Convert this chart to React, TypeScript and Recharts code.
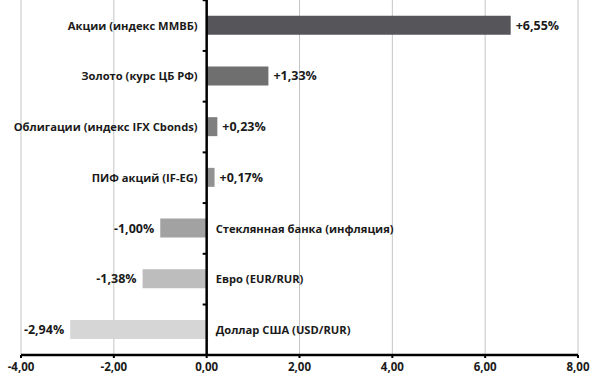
import React from 'react';
import { BarChart, Bar, XAxis, YAxis, CartesianGrid, ReferenceLine, LabelList, Cell } from 'recharts';

const categories = [
  'Акции (индекс ММВБ)',
  'Золото (курс ЦБ РФ)',
  'Облигации (индекс IFX Cbonds)',
  'ПИФ акций (IF-EG)',
  'Стеклянная банка (инфляция)',
  'Евро (EUR/RUR)',
  'Доллар США (USD/RUR)',
];
const values = [6.55, 1.33, 0.23, 0.17, -1.0, -1.38, -2.94];
const barColors = ['#56565a', '#6f6f6f', '#7f7f7f', '#929292', '#a2a2a2', '#bdbdbd', '#d6d6d6'];
const xTicks = [-4, -2, 0, 2, 4, 6, 8];

const data = categories.map((name, i) => ({ name, value: values[i] }));

const FONT = '"Open Sans", "DejaVu Sans", sans-serif';
const GAP = 0.31;

const fmtNum = (v: number) => v.toFixed(2).replace('.', ',');
const fmtPct = (v: number) => (v > 0 ? '+' : '') + fmtNum(v) + '%';

const renderLabels = (p: any) => {
  const vb = p.viewBox || {};
  const x = Number(vb.x ?? p.x);
  const w = Number(vb.width ?? p.width);
  const y = Number(vb.y ?? p.y);
  const h = Number(vb.height ?? p.height);
  const idx = Number(p.index);
  const v = values[idx];
  const left = Math.min(x, x + w);
  const right = Math.max(x, x + w);
  const zero = v >= 0 ? left : right;
  const end = v >= 0 ? right : left;
  const cy = y + Math.abs(h) / 2;
  const band = Math.abs(h) / (1 - 2 * GAP);
  const tickY = cy - band / 2;
  const common = { fontFamily: FONT, fontWeight: 700, fill: '#1a1a1a', dominantBaseline: 'central' as const };
  return (
    <g key={'lbl' + idx}>
      <line x1={zero - 4} x2={zero} y1={tickY} y2={tickY} stroke="#000" strokeWidth={2} />
      <text {...common} fontSize={11.2} x={v >= 0 ? zero - 9 : zero + 9} y={cy} textAnchor={v >= 0 ? 'end' : 'start'}>
        {categories[idx]}
      </text>
      <text {...common} fontSize={12.5} x={v >= 0 ? end + 5 : end - 6} y={cy} textAnchor={v >= 0 ? 'start' : 'end'}>
        {fmtPct(v)}
      </text>
    </g>
  );
};

export default function App() {
  return (
    <div style={{ position: 'absolute', left: 0, top: 0, width: 600, height: 380, background: '#fff' }}>
      <BarChart
        width={600}
        height={380}
        data={data}
        layout="vertical"
        margin={{ top: 0, right: 22, bottom: 0, left: 21 }}
        barCategoryGap={`${GAP * 100}%`}
      >
        <CartesianGrid horizontal={false} stroke="#c4c4c4" strokeWidth={1} />
        <XAxis
          type="number"
          domain={[-4, 8]}
          ticks={xTicks}
          interval={0}
          height={25}
          tickFormatter={(v: number) => fmtNum(v)}
          axisLine={{ stroke: '#000', strokeWidth: 2.5 }}
          tickLine={{ stroke: '#000', strokeWidth: 2 }}
          tickSize={3}
          tickMargin={5}
          tick={{ fontFamily: FONT, fontWeight: 700, fontSize: 11.5, fill: '#1a1a1a' }}
        />
        <YAxis type="category" dataKey="name" hide />
        <Bar dataKey="value" isAnimationActive={false}>
          {data.map((d, i) => (
            <Cell key={d.name} fill={barColors[i]} />
          ))}
          <LabelList dataKey="value" content={renderLabels} />
        </Bar>
        <ReferenceLine x={0} stroke="#000" strokeWidth={2.5} />
      </BarChart>
    </div>
  );
}
